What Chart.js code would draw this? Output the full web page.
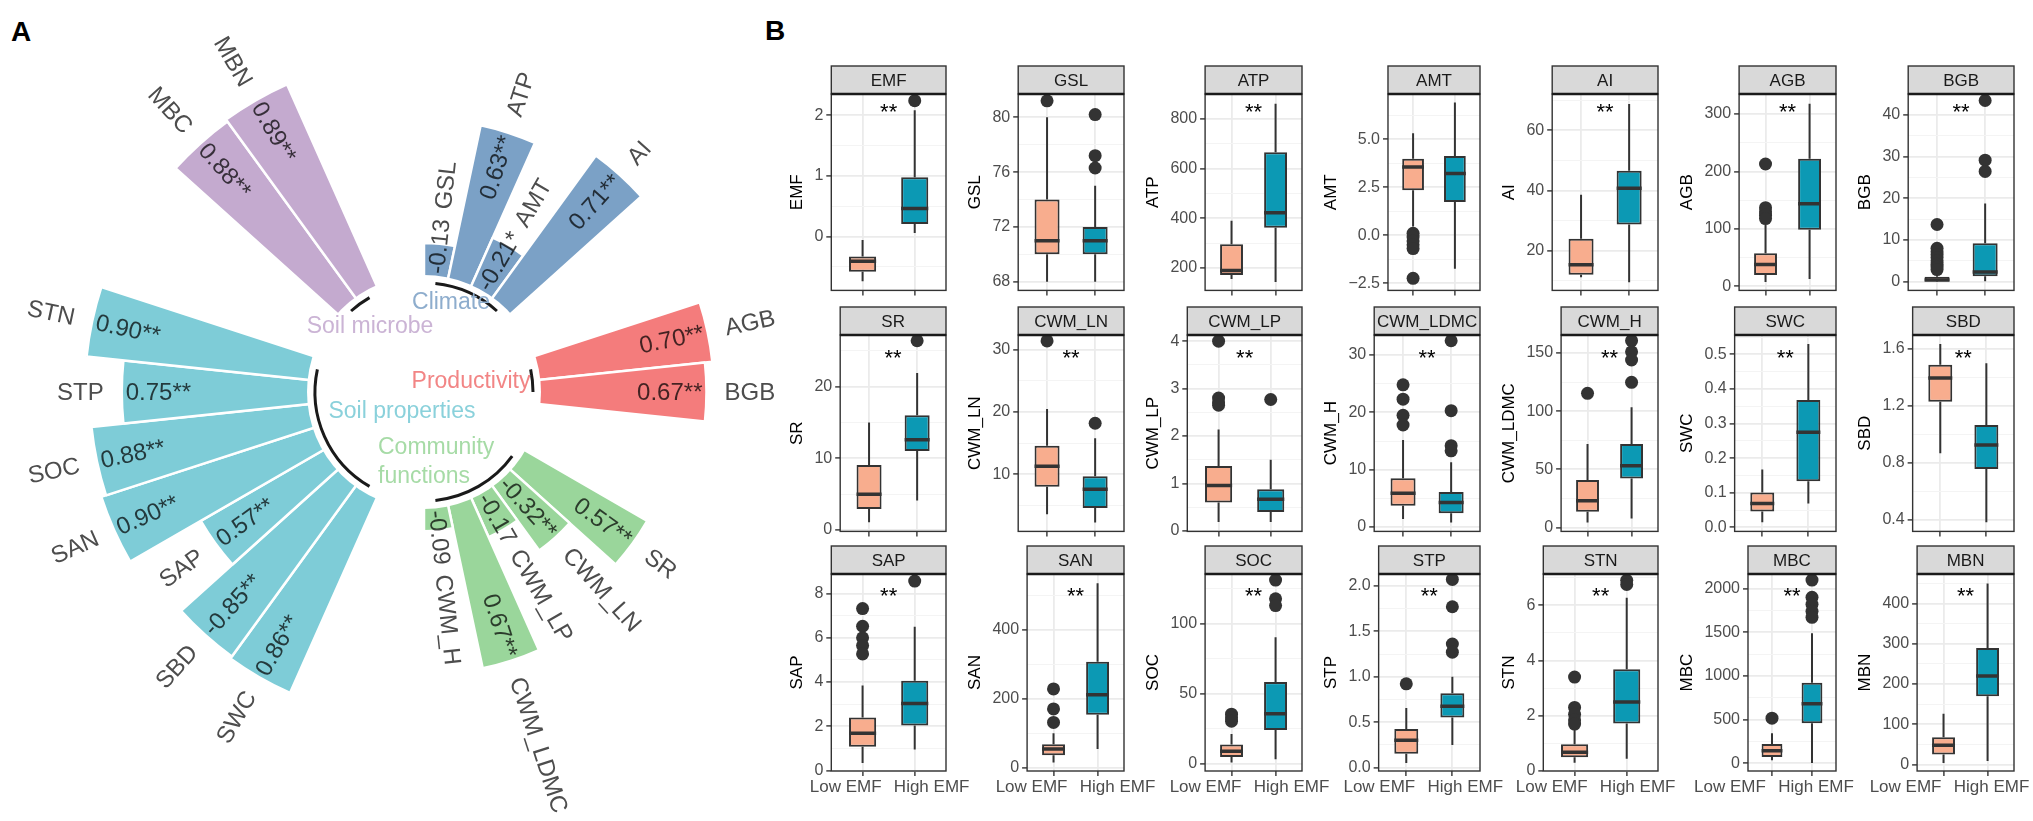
<!DOCTYPE html>
<html>
<head>
<meta charset="utf-8">
<script src="https://cdn.jsdelivr.net/npm/chart.js@4.4.1/dist/chart.umd.min.js"></script>
<style>
  body { margin: 0; background: #fff; width: 2033px; height: 821px; overflow: hidden; position: relative;
         font-family: "Liberation Sans", Arial, sans-serif; }
  .cv { position: absolute; }
  .tag { position: absolute; font-weight: bold; font-size: 28px; line-height: 28px; color: #000; }
</style>
</head>
<body>
<div class="tag" style="left:11px;top:18px">A</div>
<div class="tag" style="left:765px;top:17px">B</div>
<canvas id="radial" class="cv" width="780" height="821" style="left:0;top:0"></canvas>
<script>
// ---------- panel A: correlations with EMF ----------
const radialNames = ['GSL', 'ATP', 'AMT', 'AI',
  'AGB', 'BGB',
  'SR', 'CWM_LN', 'CWM_LP', 'CWM_LDMC', 'CWM_H',
  'SWC', 'SBD', 'SAP', 'SAN', 'SOC', 'STP', 'STN',
  'MBC', 'MBN'];
const radialValues = [-0.13, 0.63, -0.21, 0.71,
  0.70, 0.67,
  0.57, -0.32, -0.17, 0.67, -0.09,
  0.86, -0.85, 0.57, 0.90, 0.88, 0.75, 0.90,
  0.88, 0.89];
const radialStars = ['', '**', '*', '**',
  '**', '**',
  '**', '**', '', '**', '',
  '**', '**', '**', '**', '**', '**', '**',
  '**', '**'];
const groupNames = ['Climate', 'Productivity', 'Community functions', 'Soil properties', 'Soil microbe'];
const groupSizes = [4, 2, 5, 7, 2];
const groupBarColors = ['#7BA1C6', '#F47C7C', '#9AD69B', '#7ECCD7', '#C4AACF'];
const groupTextColors = ['#8EADCD', '#F28585', '#A6DBA6', '#8AD1DB', '#CBB4D5'];

// ---------- panel B: box plots Low EMF vs High EMF ----------
const boxStrips = ['EMF', 'GSL', 'ATP', 'AMT', 'AI', 'AGB', 'BGB',
  'SR', 'CWM_LN', 'CWM_LP', 'CWM_LDMC', 'CWM_H', 'SWC', 'SBD',
  'SAP', 'SAN', 'SOC', 'STP', 'STN', 'MBC', 'MBN'];
const boxYTitles = ['EMF', 'GSL', 'ATP', 'AMT', 'AI', 'AGB', 'BGB',
  'SR', 'CWM_LN', 'CWM_LP', 'CWM_H', 'CWM_LDMC', 'SWC', 'SBD',
  'SAP', 'SAN', 'SOC', 'STP', 'STN', 'MBC', 'MBN'];
const boxYMin = [-0.89, 67.37, 110, -2.88, 6.8, -7, -2.08,
  -0.2, 0.86, -0.01, -0.76, -3.4, -0.0116, 0.32,
  -0.015, -9.8, -5, -0.037, 0, -88, -16];
const boxYMax = [2.35, 81.7, 899, 7.36, 72.1, 334.8, 44.95,
  27.2, 32.35, 4.13, 33.5, 165.5, 0.556, 1.698,
  8.88, 561, 135.3, 2.13, 7.13, 2166, 473.6];
const boxTicks = [
  ['0', '1', '2'], ['68', '72', '76', '80'], ['200', '400', '600', '800'], ['−2.5', '0.0', '2.5', '5.0'],
  ['20', '40', '60'], ['0', '100', '200', '300'], ['0', '10', '20', '30', '40'],
  ['0', '10', '20'], ['10', '20', '30'], ['0', '1', '2', '3', '4'], ['0', '10', '20', '30'],
  ['0', '50', '100', '150'], ['0.0', '0.1', '0.2', '0.3', '0.4', '0.5'], ['0.4', '0.8', '1.2', '1.6'],
  ['0', '2', '4', '6', '8'], ['0', '200', '400'], ['0', '50', '100'], ['0.0', '0.5', '1.0', '1.5', '2.0'],
  ['0', '2', '4', '6'], ['0', '500', '1000', '1500', '2000'], ['0', '100', '200', '300', '400']];
// [lower whisker, q1, median, q3, upper whisker]
const lowStats = [
  [-0.74, -0.584, -0.408, -0.33, -0.06], [68, 70, 71, 74, 80], [156, 172, 190, 295, 390],
  [0.45, 2.34, 3.55, 3.99, 5.31], [11.2, 12.0, 15.3, 24.0, 38.6], [7.5, 20, 38, 57.5, 107],
  [0, 0.1, 0.4, 1.2, 2.4],
  [1.07, 2.93, 5.0, 9.07, 15.0], [3.6, 8.0, 11.3, 14.6, 20.5], [0.19, 0.60, 0.96, 1.37, 2.14],
  [1.4, 3.7, 5.9, 8.5, 15.2], [4.3, 13.5, 23, 40.7, 71.7], [0.0145, 0.046, 0.069, 0.101, 0.167],
  [0.868, 1.23, 1.397, 1.49, 1.635],
  [0.35, 1.08, 1.69, 2.40, 3.85], [14.6, 36, 53.7, 68, 99.5], [1.0, 5.0, 9.1, 13.9, 21.3],
  [0.052, 0.152, 0.30, 0.426, 0.656], [0.30, 0.50, 0.68, 0.97, 1.56], [35, 73, 143, 220, 343],
  [4, 25, 48, 68, 126]];
const highStats = [
  [0.055, 0.204, 0.463, 0.975, 2.08], [68, 70, 71, 72, 75], [144, 362, 422, 665, 860],
  [-1.75, 1.73, 3.21, 4.13, 6.92], [9.5, 28.7, 40.8, 46.6, 68.8], [13, 98.5, 144, 222, 318],
  [0.1, 1.3, 2.3, 9.2, 18.7],
  [4.1, 11.0, 12.6, 16.0, 21.9], [2.3, 4.6, 7.6, 9.7, 15.8], [0.19, 0.40, 0.67, 0.88, 1.5],
  [0.8, 2.4, 4.3, 6.1, 11.3], [7.7, 42.2, 53.1, 71.7, 103.3], [0.069, 0.133, 0.275, 0.368, 0.53],
  [0.384, 0.758, 0.926, 1.067, 1.50],
  [0.96, 2.04, 3.03, 4.06, 6.5], [53.7, 153, 211, 307, 534], [3.4, 24.2, 35.7, 58.3, 90.2],
  [0.248, 0.552, 0.674, 0.819, 1.0], [0.44, 1.72, 2.5, 3.68, 6.27], [4, 459, 682, 921, 1487],
  [9, 170, 220, 290, 450]];
const lowOutliers = [
  [], [81.2], [], [0.1, -0.1, -0.3, -0.5, -0.7, -2.25], [], [213, 137, 130, 124, 118],
  [13.7, 8.0, 7.2, 6.5, 5.8, 5.0, 4.2, 3.5, 2.9],
  [], [31.4], [4.0, 2.8, 2.72, 2.65], [24.8, 22.3, 19.5, 17.8], [115.3], [], [],
  [7.32, 6.52, 6.0, 5.65, 5.27], [228, 170, 131], [35.5, 33, 30.5], [0.922],
  [3.4, 2.3, 2.05, 1.85, 1.7], [516], []];
const highOutliers = [
  [2.24], [80.2, 77.2, 76.3], [], [], [], [], [43.4, 29.1, 26.4],
  [26.4], [18.2], [2.77], [32.5, 20.3, 14.2, 13.3], [160.6, 151, 144, 124.8], [], [],
  [8.56], [], [131, 117.6, 112.8], [2.07, 1.77, 1.36, 1.27], [6.9, 6.75],
  [2097, 1900, 1820, 1740, 1670], []];
const boxSig = ['**', '', '**', '', '**', '**', '**',
  '**', '**', '**', '**', '**', '**', '**',
  '**', '**', '**', '**', '**', '**', '**'];
const groupLabels = ['Low EMF', 'High EMF'];
const LOW_COLOR = '#F8AD8E';
const HIGH_COLOR = '#0C99B4';

Chart.defaults.font.family = '"Liberation Sans", Arial, sans-serif';
Chart.defaults.color = '#4D4D4D';

// ----- radial bar chart (polar area with a white hole) -----
const INNER_R = 117;   // px radius where r = 0 sits
const UNIT_R = 247;    // px per unit of |r|
const rMin = -INNER_R / UNIT_R;
const rMax = rMin + 350 / UNIT_R;
const GAP_SLOTS = 2;

const slotBar = [];
const slotGroup = [];
let bi = 0;
groupSizes.forEach((n, g) => {
  for (let i = 0; i < n; i++) { slotBar.push(bi++); slotGroup.push(g); }
  for (let i = 0; i < GAP_SLOTS; i++) { slotBar.push(-1); slotGroup.push(g); }
});
const slotValues = slotBar.map(b => b < 0 ? rMin : Math.abs(radialValues[b]));
const slotColors = slotBar.map((b, i) => b < 0 ? 'rgba(0,0,0,0)' : groupBarColors[slotGroup[i]]);
const slotBorders = slotBar.map(b => b < 0 ? 0 : 2.5);
const slotNames = slotBar.map(b => b < 0 ? '' : radialNames[b]);

function midAngle(el) { return (el.startAngle + el.endAngle) / 2; }

const radialLabels = {
  id: 'radialLabels',
  afterDatasetsDraw(chart) {
    const ctx = chart.ctx;
    const scale = chart.scales.r;
    const cx = scale.xCenter, cy = scale.yCenter;
    const r0 = scale.getDistanceFromCenterForValue(0);
    const arcs = chart.getDatasetMeta(0).data;
    ctx.save();
    ctx.beginPath();
    ctx.arc(cx, cy, r0, 0, Math.PI * 2);
    ctx.fillStyle = '#fff';
    ctx.fill();

    // black arcs under each group
    groupSizes.forEach((n, g) => {
      const idx = slotBar.map((b, i) => (b >= 0 && slotGroup[i] === g) ? i : -1).filter(i => i >= 0);
      const a1 = midAngle(arcs[idx[0]]), a2 = midAngle(arcs[idx[idx.length - 1]]);
      ctx.beginPath();
      ctx.arc(cx, cy, r0 - 8, a1, a2);
      ctx.lineWidth = 3;
      ctx.strokeStyle = '#1A1A1A';
      ctx.stroke();
    });

    // value and name labels along each bar
    const valFont = '24px "Liberation Sans", Arial, sans-serif';
    const nameFont = '24px "Liberation Sans", Arial, sans-serif';
    slotBar.forEach((b, i) => {
      if (b < 0) return;
      const el = arcs[i];
      const a = midAngle(el);
      const ro = el.outerRadius;
      const right = Math.cos(a) >= 0;
      const valText = radialValues[b].toFixed(2) + radialStars[b];
      ctx.font = valFont;
      const w = ctx.measureText(valText).width;
      let vs = ro - 4 - w;
      if (vs < r0 + 2) vs = r0 + 2;
      const ve = vs + w;
      const ns = Math.max(ro + 18, ve + 10);
      ctx.save();
      ctx.translate(cx, cy);
      ctx.rotate(right ? a : a + Math.PI);
      ctx.textBaseline = 'middle';
      ctx.fillStyle = 'rgba(0,0,0,0.72)';
      ctx.textAlign = 'left';
      ctx.fillText(valText, right ? vs : -ve, 1);
      ctx.font = nameFont;
      ctx.fillStyle = '#4D4D4D';
      ctx.textAlign = right ? 'left' : 'right';
      ctx.fillText(radialNames[b], right ? ns : -ns, 1);
      ctx.restore();
    });

    // group titles in the hole
    ctx.font = '23px "Liberation Sans", Arial, sans-serif';
    ctx.textBaseline = 'middle';
    const place = [
      [['Climate'], 27, -89, 'center'],
      [['Productivity'], 47, -10, 'center'],
      [['Community', 'functions'], -46, 56, 'left'],
      [['Soil properties'], -22, 20, 'center'],
      [['Soil microbe'], -54, -65, 'center']];
    place.forEach((p, g) => {
      ctx.fillStyle = groupTextColors[g];
      ctx.textAlign = p[3];
      p[0].forEach((line, j) => ctx.fillText(line, cx + p[1], cy + p[2] + j * 29));
    });
    ctx.restore();
  }
};

new Chart(document.getElementById('radial'), {
  type: 'polarArea',
  data: {
    labels: slotNames,
    datasets: [{
      data: slotValues,
      backgroundColor: slotColors,
      borderColor: '#fff',
      borderWidth: slotBorders
    }]
  },
  options: {
    responsive: false,
    animation: false,
    events: [],
    layout: { padding: { left: 74, top: 42, right: 6, bottom: 79 } },
    plugins: { legend: { display: false }, tooltip: { enabled: false } },
    scales: { r: { display: false, min: rMin, max: rMax, startAngle: 0 } }
  },
  plugins: [radialLabels]
});

// ----- box plot grid -----
const CELL_X0 = 768, CELL_W = 178, CANVAS_W = 210;
const ROW_TOPS = [66, 307, 546];
const STAR_DY = [12, 16.5, 16];
const LABEL_SHIFT = [0, 1, 5, 7, 6, 19, 17];  // bottom-row label pairs drift left in the original
const PANEL_H = 197, STRIP_H = 28;

const boxDecor = {
  id: 'boxDecor',
  afterDraw(chart, args, opts) {
    const ctx = chart.ctx, a = chart.chartArea;
    const w = a.right - a.left;
    const xs = chart.scales.x;
    ctx.save();
    ctx.strokeStyle = '#333';
    ctx.lineWidth = 1.4;
    ctx.strokeRect(a.left, a.top, w, a.bottom - a.top);
    ctx.fillStyle = '#D9D9D9';
    ctx.fillRect(a.left, a.top - STRIP_H, w, STRIP_H);
    ctx.strokeRect(a.left, a.top - STRIP_H, w, STRIP_H);
    ctx.beginPath();
    ctx.moveTo(a.left, a.top);
    ctx.lineTo(a.right, a.top);
    ctx.lineWidth = 2.6;
    ctx.strokeStyle = '#1A1A1A';
    ctx.stroke();
    ctx.fillStyle = '#1A1A1A';
    ctx.font = '17px "Liberation Sans", Arial, sans-serif';
    ctx.textAlign = 'center';
    ctx.textBaseline = 'middle';
    ctx.fillText(opts.strip, (a.left + a.right) / 2, a.top - STRIP_H / 2 + 1);
    if (opts.xLabels) {
      const mid = (xs.getPixelForValue(1) + xs.getPixelForValue(2)) / 2 - opts.shift;
      ctx.fillStyle = '#4D4D4D';
      ctx.fillText(groupLabels[0], mid - 43, a.bottom + 16);
      ctx.fillText(groupLabels[1], mid + 43, a.bottom + 16);
    }
    if (opts.sig) {
      ctx.font = '22px "Liberation Sans", Arial, sans-serif';
      ctx.fillStyle = '#000';
      ctx.textBaseline = 'alphabetic';
      ctx.fillText(opts.sig, xs.getPixelForValue(1.5), a.top + opts.starDy + 13);
    }
    ctx.restore();
  }
};

function buildBox(k) {
  const row = Math.floor(k / 7), col = k % 7;
  const xAxisH = row === 2 ? 48 : 12;
  const cv = document.createElement('canvas');
  cv.width = CANVAS_W;
  cv.height = 30 + PANEL_H + xAxisH;
  cv.className = 'cv';
  cv.style.left = (CELL_X0 + CELL_W * col) + 'px';
  cv.style.top = (ROW_TOPS[row] - 2) + 'px';
  document.body.appendChild(cv);

  const yMin = boxYMin[k], yMax = boxYMax[k];
  const majors = boxTicks[k].map(s => ({ value: parseFloat(s.replace('−', '-')), lbl: s, minor: false }));
  const step = majors[1].value - majors[0].value;
  const minors = [];
  for (let j = -1; j < majors.length + 1; j++) {
    const v = majors[0].value + step * (j + 0.5);
    minors.push({ value: v, lbl: '', minor: true });
  }
  const yTicks = majors.concat(minors)
    .filter(t => t.value >= yMin - 1e-9 && t.value <= yMax + 1e-9)
    .sort((p, q) => p.value - q.value);

  const lo = lowStats[k], hi = highStats[k];
  const whiskers = [
    { x: 1, y: lo[0] }, { x: 1, y: lo[1] }, { x: 1, y: null }, { x: 1, y: lo[3] }, { x: 1, y: lo[4] },
    { x: 1.5, y: null },
    { x: 2, y: hi[0] }, { x: 2, y: hi[1] }, { x: 2, y: null }, { x: 2, y: hi[3] }, { x: 2, y: hi[4] }];
  const medians = [
    { x: 0.74, y: lo[2] }, { x: 1.26, y: lo[2] }, { x: 1.5, y: null },
    { x: 1.74, y: hi[2] }, { x: 2.26, y: hi[2] }];
  const boxes = [{ x: 1, y: [lo[1], lo[3]] }, { x: 2, y: [hi[1], hi[3]] }];
  const outliers = lowOutliers[k].map(v => ({ x: 1, y: v }))
    .concat(highOutliers[k].map(v => ({ x: 2, y: v })));

  const isMinor = c => c.tick && c.tick.minor;
  new Chart(cv, {
    type: 'bar',
    data: {
      datasets: [
        { type: 'line', data: outliers, showLine: false, pointRadius: 6.5,
          pointBackgroundColor: '#333', pointBorderWidth: 0, order: 0 },
        { type: 'line', data: medians, borderColor: '#333', borderWidth: 3.5, borderCapStyle: 'butt',
          pointRadius: 0, spanGaps: false, order: 1 },
        { type: 'bar', data: boxes, backgroundColor: [LOW_COLOR, HIGH_COLOR], borderColor: '#333',
          borderWidth: 2, borderSkipped: false, barPercentage: 0.52, categoryPercentage: 1, order: 2 },
        { type: 'line', data: whiskers, borderColor: '#333', borderWidth: 2, pointRadius: 0,
          spanGaps: false, order: 3 }
      ]
    },
    options: {
      responsive: false,
      animation: false,
      events: [],
      layout: { padding: { left: 15, right: CANVAS_W - CELL_W, top: 30, bottom: 0 } },
      plugins: {
        legend: { display: false },
        tooltip: { enabled: false },
        boxDecor: { strip: boxStrips[k], sig: boxSig[k], starDy: STAR_DY[row],
                    xLabels: row === 2, shift: LABEL_SHIFT[col] }
      },
      scales: {
        x: {
          type: 'linear', min: 0.4, max: 2.6, offset: false,
          afterBuildTicks: s => { s.ticks = [{ value: 1 }, { value: 2 }]; },
          afterFit: s => { s.height = xAxisH; },
          grid: { color: '#EBEBEB', lineWidth: 1.8, offset: false, tickLength: 5, tickColor: '#333', tickWidth: 1.4 },
          border: { display: false },
          ticks: { display: false }
        },
        y: {
          min: yMin, max: yMax,
          afterBuildTicks: s => { s.ticks = yTicks.map(t => Object.assign({}, t)); },
          grid: {
            color: c => isMinor(c) ? '#F4F4F4' : '#EBEBEB',
            lineWidth: c => isMinor(c) ? 1 : 1.8,
            tickLength: 5,
            tickColor: c => isMinor(c) ? 'rgba(0,0,0,0)' : '#333',
            tickWidth: 1.4
          },
          border: { display: false },
          ticks: {
            autoSkip: false, padding: 3, color: '#4D4D4D', font: { size: 16 },
            callback: (v, i, ticks) => ticks[i].lbl
          },
          title: { display: true, text: boxYTitles[k], color: '#000', font: { size: 17 }, padding: { top: 4, bottom: 4 } }
        }
      }
    },
    plugins: [boxDecor]
  });
}

for (let k = 0; k < boxStrips.length; k++) buildBox(k);
</script>
</body>
</html>
